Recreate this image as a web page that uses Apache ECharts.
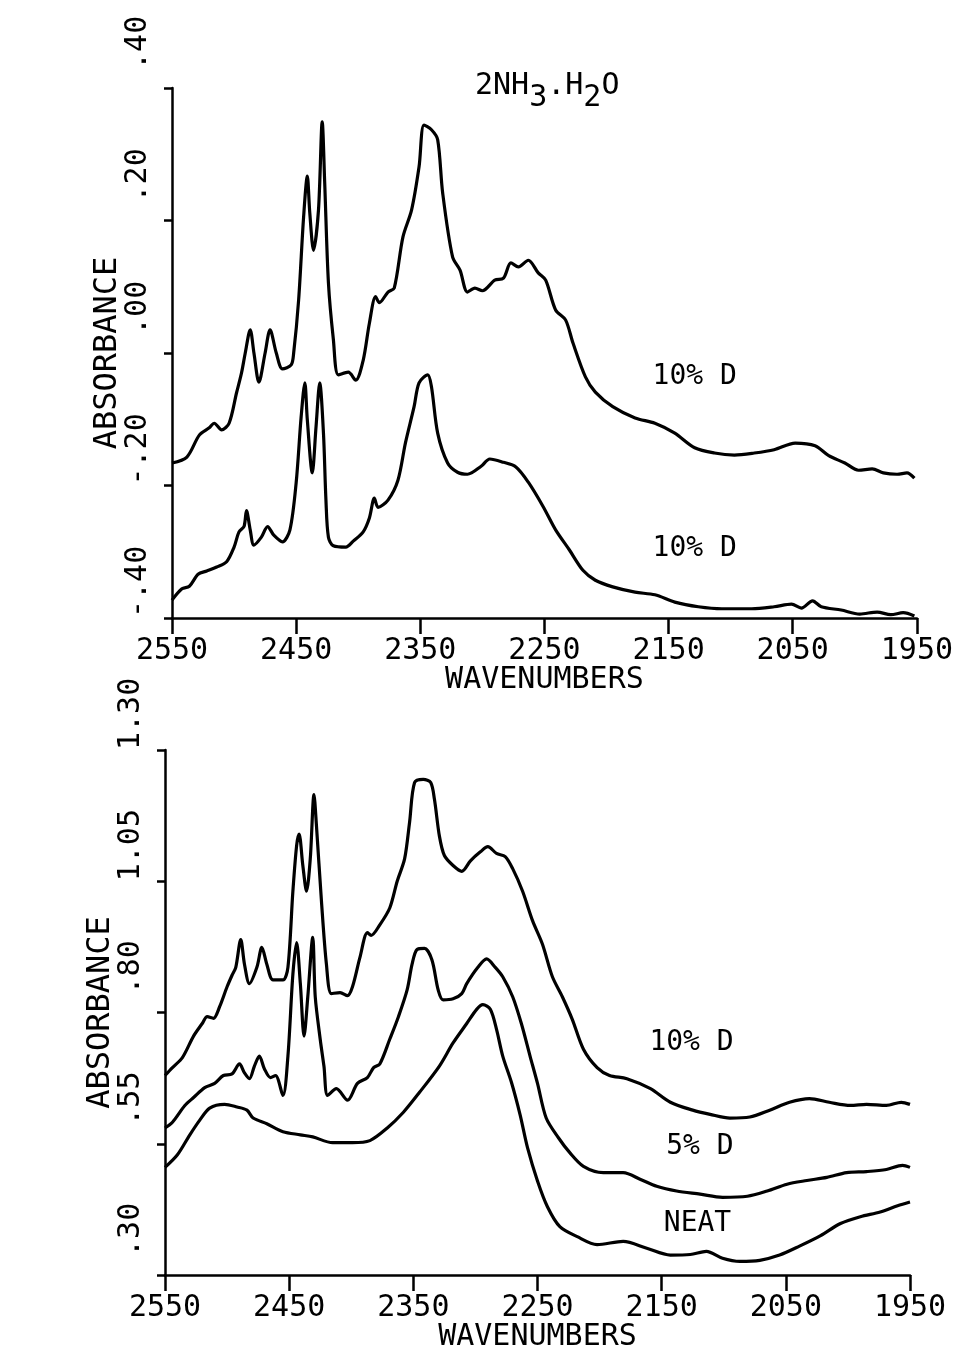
<!DOCTYPE html>
<html>
<head>
<meta charset="utf-8">
<script src="https://cdn.jsdelivr.net/npm/echarts@6/dist/echarts.min.js"></script>
<style>
  html, body { margin: 0; padding: 0; background: #fff; }
  #chart { width: 956px; height: 1353px; }
</style>
</head>
<body>
<div id="chart"></div>
<script>
// Wavenumber ticks shared by both panels (cm-1, high to low)
const xTicks = [2550, 2450, 2350, 2250, 2150, 2050, 1950];
const topYTicks = [-0.40, -0.20, 0.00, 0.20, 0.40];
const bottomYTicks = [0.30, 0.55, 0.80, 1.05, 1.30];

// Upper panel: two 10% D spectra, [wavenumber, absorbance]
const topUpper = [
  [2550,-0.166],[2538,-0.157],[2528,-0.124],[2520,-0.113],[2516,-0.106],[2510,-0.116],[2504,-0.106],
  [2498,-0.060],[2494,-0.030],[2491,0.000],[2487,0.035],[2484,0.000],[2480,-0.044],[2475,0.000],
  [2471,0.035],[2466,0.000],[2461,-0.024],[2454,-0.018],[2452,0.000],[2448,0.080],[2444,0.205],
  [2441,0.267],[2439,0.211],[2436,0.155],[2432,0.216],[2429,0.349],[2427,0.257],[2424,0.106],
  [2420,0.020],[2416,-0.033],[2408,-0.029],[2402,-0.041],[2396,-0.011],[2391,0.045],[2386,0.085],
  [2383,0.076],[2376,0.092],[2371,0.098],[2364,0.175],[2357,0.216],[2351,0.281],[2347,0.344],
  [2341,0.337],[2336,0.322],[2332,0.242],[2324,0.145],[2318,0.125],[2312,0.092],[2306,0.098],
  [2300,0.094],[2290,0.110],[2283,0.113],[2277,0.136],[2271,0.130],[2263,0.140],[2255,0.121],
  [2249,0.110],[2241,0.065],[2233,0.050],[2227,0.015],[2217,-0.036],[2209,-0.059],[2195,-0.081],
  [2177,-0.098],[2161,-0.106],[2145,-0.121],[2129,-0.143],[2113,-0.151],[2097,-0.154],[2081,-0.151],
  [2065,-0.146],[2048,-0.136],[2032,-0.140],[2021,-0.155],[2008,-0.166],[1997,-0.177],[1986,-0.175],
  [1977,-0.181],[1966,-0.183],[1958,-0.181],[1952,-0.189]
];
const topLower = [
  [2550,-0.373],[2542,-0.356],[2536,-0.352],[2529,-0.334],[2522,-0.329],[2514,-0.323],[2506,-0.315],
  [2500,-0.293],[2496,-0.270],[2492,-0.262],[2490,-0.238],[2487,-0.267],[2484,-0.290],[2478,-0.278],
  [2473,-0.262],[2468,-0.275],[2461,-0.285],[2455,-0.267],[2450,-0.196],[2446,-0.097],[2443,-0.045],
  [2441,-0.101],[2437,-0.181],[2434,-0.112],[2431,-0.045],[2428,-0.121],[2426,-0.222],[2424,-0.278],
  [2420,-0.291],[2410,-0.293],[2404,-0.284],[2396,-0.270],[2391,-0.249],[2387,-0.219],[2384,-0.233],
  [2376,-0.222],[2368,-0.192],[2362,-0.136],[2355,-0.081],[2351,-0.045],[2344,-0.033],[2341,-0.051],
  [2336,-0.121],[2328,-0.166],[2320,-0.180],[2312,-0.183],[2301,-0.171],[2294,-0.160],[2283,-0.165],
  [2273,-0.172],[2263,-0.195],[2251,-0.232],[2241,-0.267],[2230,-0.297],[2219,-0.328],[2209,-0.343],
  [2195,-0.353],[2177,-0.361],[2161,-0.365],[2145,-0.376],[2126,-0.383],[2107,-0.386],[2083,-0.386],
  [2065,-0.383],[2051,-0.379],[2043,-0.385],[2034,-0.374],[2027,-0.383],[2011,-0.388],[1996,-0.394],
  [1982,-0.391],[1971,-0.395],[1961,-0.392],[1952,-0.397]
];

// Lower panel: 10% D, 5% D and neat spectra
const bottom10 = [
  [2550,0.680],[2544,0.695],[2536,0.714],[2527,0.755],[2520,0.779],[2516,0.792],[2511,0.789],
  [2506,0.811],[2500,0.849],[2496,0.871],[2493,0.886],[2489,0.939],[2486,0.892],[2482,0.855],
  [2476,0.886],[2472,0.924],[2468,0.892],[2463,0.862],[2455,0.862],[2451,0.886],[2447,1.031],
  [2444,1.118],[2442,1.140],[2439,1.080],[2436,1.031],[2433,1.093],[2430,1.215],[2428,1.155],
  [2424,1.012],[2420,0.892],[2416,0.836],[2409,0.838],[2403,0.832],[2399,0.849],[2393,0.905],
  [2387,0.952],[2384,0.947],[2377,0.967],[2369,0.999],[2363,1.050],[2357,1.093],[2353,1.163],
  [2349,1.238],[2342,1.244],[2336,1.238],[2333,1.206],[2329,1.136],[2325,1.099],[2318,1.080],
  [2311,1.069],[2304,1.089],[2296,1.106],[2290,1.116],[2283,1.103],[2276,1.097],[2270,1.074],
  [2262,1.031],[2254,0.975],[2246,0.930],[2238,0.868],[2230,0.830],[2222,0.787],[2213,0.730],
  [2202,0.695],[2192,0.680],[2178,0.674],[2159,0.655],[2143,0.629],[2125,0.614],[2111,0.606],
  [2095,0.599],[2079,0.601],[2063,0.614],[2047,0.629],[2031,0.636],[2015,0.629],[1998,0.623],
  [1985,0.625],[1969,0.623],[1957,0.629],[1950,0.625]
];
const bottom5 = [
  [2550,0.580],[2544,0.591],[2534,0.623],[2527,0.638],[2518,0.657],[2510,0.665],[2503,0.680],
  [2496,0.683],[2490,0.702],[2486,0.685],[2482,0.674],[2478,0.698],[2474,0.717],[2470,0.693],
  [2465,0.676],[2461,0.680],[2455,0.642],[2451,0.717],[2447,0.873],[2444,0.933],[2441,0.855],
  [2438,0.755],[2435,0.830],[2431,0.943],[2429,0.830],[2425,0.749],[2422,0.698],[2419,0.642],
  [2412,0.655],[2403,0.633],[2395,0.665],[2387,0.676],[2382,0.695],[2377,0.702],[2369,0.749],
  [2362,0.792],[2355,0.843],[2351,0.892],[2347,0.920],[2341,0.922],[2335,0.900],[2330,0.843],
  [2326,0.824],[2318,0.826],[2311,0.836],[2307,0.855],[2298,0.886],[2291,0.902],[2284,0.886],
  [2278,0.868],[2270,0.830],[2263,0.779],[2256,0.717],[2250,0.665],[2243,0.599],[2233,0.561],
  [2224,0.533],[2213,0.507],[2197,0.495],[2181,0.495],[2167,0.482],[2154,0.469],[2138,0.460],
  [2119,0.454],[2101,0.448],[2081,0.450],[2065,0.460],[2049,0.473],[2033,0.480],[2017,0.486],
  [2001,0.495],[1985,0.497],[1969,0.501],[1956,0.509],[1950,0.505]
];
const bottomNeat = [
  [2550,0.505],[2540,0.529],[2530,0.567],[2522,0.595],[2514,0.618],[2502,0.625],[2492,0.620],
  [2484,0.614],[2479,0.599],[2468,0.588],[2455,0.573],[2441,0.567],[2431,0.563],[2415,0.552],
  [2399,0.552],[2385,0.556],[2371,0.580],[2358,0.610],[2345,0.648],[2329,0.698],[2318,0.742],
  [2307,0.779],[2299,0.806],[2294,0.815],[2288,0.806],[2283,0.768],[2278,0.717],[2271,0.667],
  [2264,0.605],[2258,0.542],[2250,0.479],[2242,0.430],[2232,0.392],[2218,0.373],[2202,0.358],
  [2181,0.364],[2162,0.351],[2143,0.338],[2127,0.339],[2114,0.345],[2101,0.332],[2087,0.326],
  [2071,0.328],[2055,0.338],[2039,0.355],[2022,0.375],[2006,0.398],[1990,0.411],[1974,0.420],
  [1960,0.432],[1950,0.439]
];

const MONO = "'DejaVu Sans Mono', 'Liberation Mono', monospace";
const INK = '#000';

// Plotter-style absorbance label: 4-character field, no leading zero
function absLabel(v) {
  let s = Math.abs(v).toFixed(2);
  if (s.charAt(0) === '0') s = s.slice(1);
  if (v < -1e-9) s = '-' + s;
  while (s.length < 4) s = ' ' + s;
  return s;
}

function xAxisFor(gridIndex) {
  return {
    gridIndex, type: 'value', inverse: true, min: 1950, max: 2550,
    name: 'WAVENUMBERS', nameLocation: 'middle', nameGap: 47, nameMoveOverlap: false,
    nameTextStyle: { fontFamily: MONO, fontSize: 30, color: INK },
    splitLine: { show: false },
    axisLine: { show: true, onZero: false, lineStyle: { color: INK, width: 2.5 } },
    axisTick: { show: true, inside: false, length: 16, lineStyle: { color: INK, width: 2.5 }, customValues: xTicks },
    axisLabel: { show: true, margin: 18, fontFamily: MONO, fontSize: 30, color: INK, customValues: xTicks,
                 formatter: v => String(Math.round(v)) }
  };
}

function yAxisFor(gridIndex, min, max, ticks) {
  return {
    gridIndex, type: 'value', min, max,
    name: 'ABSORBANCE', nameLocation: 'middle', nameGap: 48, nameRotate: 90, nameMoveOverlap: false,
    nameTextStyle: { fontFamily: MONO, fontSize: 32, color: INK },
    splitLine: { show: false },
    axisLine: { show: true, onZero: false, lineStyle: { color: INK, width: 2.5 } },
    axisTick: { show: true, inside: false, length: 8, lineStyle: { color: INK, width: 2.5 }, customValues: ticks },
    axisLabel: { show: true, rotate: 90, margin: 34, align: 'left', verticalAlign: 'middle',
                 fontFamily: MONO, fontSize: 30, color: INK, customValues: ticks, formatter: absLabel }
  };
}

function spectrum(data, xi, tag, tagAt) {
  return {
    type: 'line', xAxisIndex: xi, yAxisIndex: xi, data,
    showSymbol: false, smooth: 0.3, silent: true,
    lineStyle: { color: INK, width: 3.2 },
    markPoint: {
      symbolSize: 0, silent: true, animation: false,
      label: { show: true, position: 'left', distance: 0, fontFamily: MONO, fontSize: 28, color: INK,
               formatter: tag },
      data: [{ coord: tagAt }]
    }
  };
}

const chart = echarts.init(document.getElementById('chart'), null, { renderer: 'canvas' });
chart.setOption({
  backgroundColor: '#fff',
  animation: false,
  title: {
    text: '{m|2NH}{s|3}{m|.H}{s|2}{m|O}',
    left: 470, top: 66,
    textStyle: {
      fontWeight: 'normal',
      rich: {
        m: { fontFamily: MONO, fontSize: 30, fontWeight: 'normal', color: INK, lineHeight: 30, verticalAlign: 'top' },
        s: { fontFamily: MONO, fontSize: 30, fontWeight: 'normal', color: INK, lineHeight: 30, verticalAlign: 'top', padding: [12, 0, 0, 0] }
      }
    }
  },
  grid: [
    { left: 172, top: 88, width: 748, height: 530 },
    { left: 165, top: 750, width: 745, height: 532 }
  ],
  xAxis: [xAxisFor(0), xAxisFor(1)],
  yAxis: [
    yAxisFor(0, -0.40, 0.40, topYTicks),
    yAxisFor(1, 0.30, 1.30, bottomYTicks)
  ],
  series: [
    spectrum(topUpper, 0, '10% D', [2095, -0.036]),
    spectrum(topLower, 0, '10% D', [2095, -0.296]),
    spectrum(bottom10, 1, '10% D', [2092, 0.742]),
    spectrum(bottom5, 1, '5% D', [2092, 0.544]),
    spectrum(bottomNeat, 1, 'NEAT', [2094, 0.398])
  ]
});
</script>
</body>
</html>
